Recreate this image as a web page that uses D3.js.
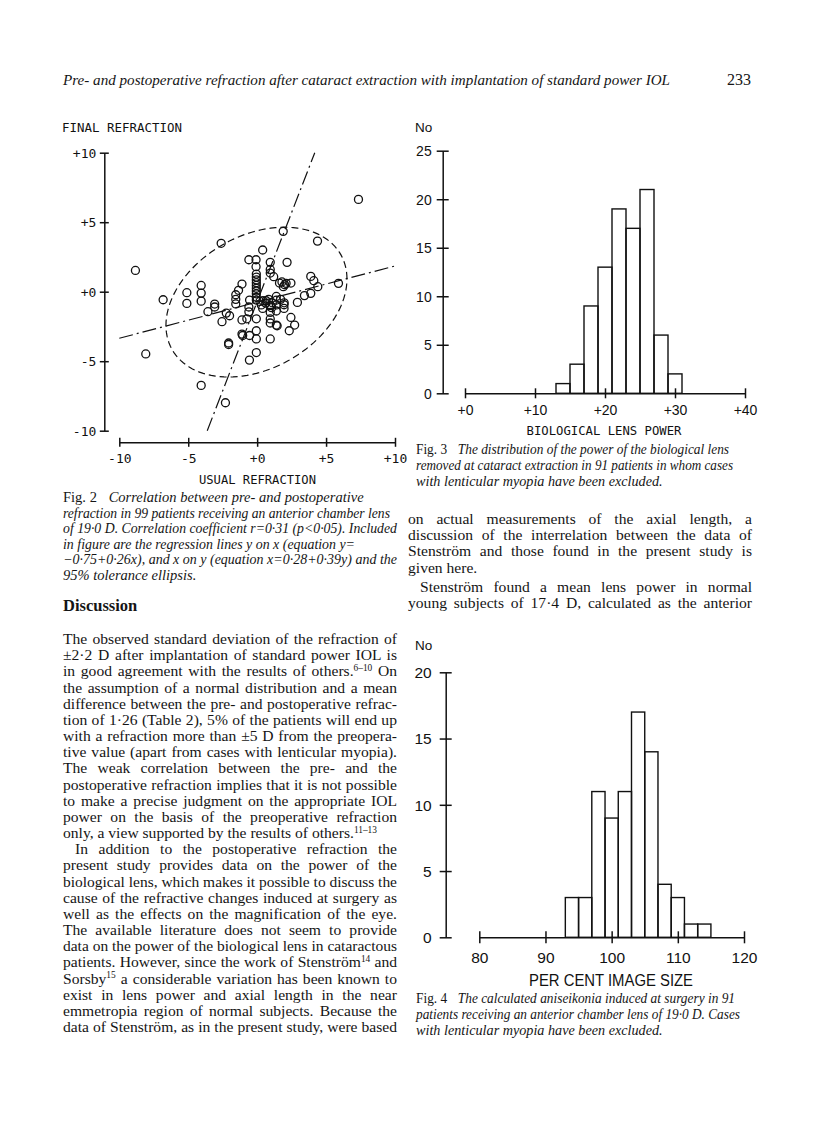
<!DOCTYPE html>
<html><head><meta charset="utf-8">
<script src="https://cdn.jsdelivr.net/npm/d3@7"></script>
<style>body{margin:0;background:#fff}</style>
</head><body>
<svg id="page" width="816" height="1135"></svg>
<script>
// ---------- DATA ----------
// Fig 2 scatter: usual (pre-op) refraction vs final (post-op) refraction
const fig2Usual = [7.35,-8.83,-8.08,-4.06,-2.30,-2.61,1.89,4.38,0.40,5.90,
  -6.82,-5.10,-5.10,-4.06,-4.06,-4.06,-3.08,-3.08,-3.57,-2.24,
  -2.00,-2.55,-2.07,-2.07,-0.60,-0.08,-0.08,-0.06,-0.06,-0.06,
  -0.06,-0.06,-0.06,-0.06,-0.06,-0.06,-0.06,0.95,0.95,0.95,
  1.20,2.17,1.62,1.90,2.10,2.45,3.89,4.11,4.40,3.89,
  3.43,2.92,-1.10,-1.35,-1.55,-1.55,-1.55,-0.55,-0.60,-1.10,
  -0.75,-1.10,-1.05,-0.55,-0.06,-0.06,-0.06,-0.06,-0.56,0.95,
  0.42,0.83,1.39,1.95,1.95,0.95,0.95,0.95,0.95,1.39,
  1.45,1.39,1.39,2.45,2.72,2.33,0.62,1.40,0.20,0.30,
  0.65,1.10,1.70,0.40,-0.60,1.96,1.05,2.00,1.80];
const fig2Final = [6.64,1.53,-4.48,-6.74,-7.99,3.48,4.34,3.64,3.00,0.60,
  -0.58,-0.07,-0.84,0.45,-0.10,-0.68,-0.89,-1.10,-1.44,-1.54,
  -1.73,-2.16,-3.69,-3.80,2.30,2.30,1.80,1.27,1.05,0.85,
  0.65,0.45,0.25,0.05,-0.15,-0.40,-0.60,2.11,1.60,1.34,
  1.08,2.11,0.62,0.36,0.60,0.62,1.10,0.79,0.36,-0.12,
  -0.28,-0.77,0.55,0.10,-0.22,-0.55,-0.88,-0.60,-1.45,-2.03,
  -1.95,-3.05,-3.15,-3.15,-1.95,-2.81,-3.40,-4.38,-4.92,-3.40,
  -0.65,-0.55,-0.34,-0.94,-1.20,-1.00,-1.49,-1.96,-2.25,-2.40,
  -2.45,-0.95,-1.39,-1.85,-2.40,-2.81,-0.82,-0.60,-0.70,-0.95,
  -0.65,-0.80,-0.55,-1.20,-1.10,-0.80,-1.15,0.50,0.70];
const regYonX = [-0.75, 0.26];   // y = a + b x
const regXonY = [0.28, 0.39];    // x = a + b y
const ellipseMean = [-0.05, -0.75];
const ellipseSD = [2.68, 2.2];
const ellipseR = 0.31;
const ellipseK = 2.45;           // 95% (sqrt chi2, 2 df)
const fig2Ticks = [-10, -5, 0, 5, 10];
const fig2TickLabels = ["-10", "-5", "+0", "+5", "+10"];

// Fig 3 histogram: biological lens power
const fig3BinStart = [13, 15, 17, 19, 21, 23, 25, 27, 29];
const fig3Counts = [1, 3, 9, 13, 19, 17, 21, 6, 2];
const fig3BinWidth = 2;
const fig3XTicks = [0, 10, 20, 30, 40];
const fig3XTickLabels = ["+0", "+10", "+20", "+30", "+40"];
const fig3YTicks = [0, 5, 10, 15, 20, 25];

// Fig 4 histogram: per cent image size
const fig4BinStart = [93, 95, 97, 99, 101, 103, 105, 107, 109, 111, 113];
const fig4Counts = [3, 3, 11, 9, 11, 17, 14, 4, 3, 1, 1];
const fig4BinWidth = 2;
const fig4XTicks = [80, 90, 100, 110, 120];
const fig4YTicks = [0, 5, 10, 15, 20];

// ---------- TEXT ----------
const headerText = "Pre- and postoperative refraction after cataract extraction with implantation of standard power IOL";
const pageNumber = "233";
const fig2Caption = [
  "{Fig. 2}Correlation between pre- and postoperative",
  "refraction in 99 patients receiving an anterior chamber lens",
  "of 19·0 D. Correlation coefficient r=0·31 (p<0·05). Included",
  "in figure are the regression lines y on x (equation y=",
  "−0·75+0·26x), and x on y (equation x=0·28+0·39y) and the",
  "95% tolerance ellipsis."];
const fig2CaptionEnds = [352, 390, 397, 355, 397, null];
const fig3Caption = [
  "{Fig. 3}The distribution of the power of the biological lens",
  "removed at cataract extraction in 91 patients in whom cases",
  "with lenticular myopia have been excluded."];
const fig3CaptionEnds = [729, 733, null];
const fig4Caption = [
  "{Fig. 4}The calculated aniseikonia induced at surgery in 91",
  "patients receiving an anterior chamber lens of 19·0 D. Cases",
  "with lenticular myopia have been excluded."];
const fig4CaptionEnds = [735, 740, null];
const para1 = [
  "The observed standard deviation of the refraction of",
  "±2·2 D after implantation of standard power IOL is",
  "in good agreement with the results of others.^6–10^ On",
  "the assumption of a normal distribution and a mean",
  "difference between the pre- and postoperative refrac-",
  "tion of 1·26 (Table 2), 5% of the patients will end up",
  "with a refraction more than ±5 D from the preopera-",
  "tive value (apart from cases with lenticular myopia).",
  "The weak correlation between the pre- and the",
  "postoperative refraction implies that it is not possible",
  "to make a precise judgment on the appropriate IOL",
  "power on the basis of the preoperative refraction",
  "only, a view supported by the results of others.^11–13^"];
const para2 = [
  "In addition to the postoperative refraction the",
  "present study provides data on the power of the",
  "biological lens, which makes it possible to discuss the",
  "cause of the refractive changes induced at surgery as",
  "well as the effects on the magnification of the eye.",
  "The available literature does not seem to provide",
  "data on the power of the biological lens in cataractous",
  "patients. However, since the work of Stenström^14^ and",
  "Sorsby^15^ a considerable variation has been known to",
  "exist in lens power and axial length in the near",
  "emmetropia region of normal subjects. Because the",
  "data of Stenström, as in the present study, were based"];
const para2cont = [
  "on actual measurements of the axial length, a",
  "discussion of the interrelation between the data of",
  "Stenström and those found in the present study is",
  "given here."];
const para3 = [
  "Stenström found a mean lens power in normal",
  "young subjects of 17·4 D, calculated as the anterior"];

// ---------- DRAWING ----------
const svg = d3.select("#page");
const SERIF = "'Liberation Serif','Times New Roman',serif";
const MONO = "'DejaVu Sans Mono','Liberation Mono',monospace";
const SANS = "'Liberation Sans',Arial,sans-serif";

function richText(g, x, y, str, opts) {
  const t = g.append("text").attr("x", x).attr("y", y)
    .attr("font-family", SERIF).attr("font-size", opts.size)
    .attr("font-style", opts.italic ? "italic" : "normal")
    .attr("font-weight", opts.bold ? "bold" : "normal").attr("fill", "#151515");
  const parts = str.split(/(\^[^^]*\^|\{[^}]*\})/).filter(s => s.length);
  let pendingDy = null, pendingDx = 0;
  parts.forEach(p => {
    if (p[0] === "^") {
      t.append("tspan").attr("font-size", "0.6em").attr("dy", "-0.55em")
        .attr("font-style", "normal").text(p.slice(1, -1));
      pendingDy = "0.33em";
    } else if (p[0] === "{") {
      t.append("tspan").attr("font-style", "normal").text(p.slice(1, -1));
      pendingDx = "0.8em";
    } else {
      const ts = t.append("tspan").text(p);
      if (pendingDy) { ts.attr("dy", pendingDy); pendingDy = null; }
      if (pendingDx) { ts.attr("dx", pendingDx); pendingDx = 0; }
    }
  });
  return t;
}

// Justify a line to a target right edge: widen word gaps, or squeeze slightly if too long.
function justify(t, x, end) {
  if (end == null) return;
  const target = end - x;
  const nat = t.node().getComputedTextLength();
  const spaces = (t.text().match(/ /g) || []).length;
  if (nat < target && spaces > 0) {
    t.attr("word-spacing", ((target - nat) / spaces).toFixed(2));
  } else if (nat > target) {
    t.attr("textLength", target).attr("lengthAdjust", "spacingAndGlyphs");
  }
}

function textBlock(lines, xs, ys, ends, opts) {
  const g = svg.append("g");
  lines.forEach((s, i) => justify(richText(g, xs[i], ys[i], s, opts), xs[i], ends[i]));
  return g;
}

// header
textBlock([headerText], [63], [85], [670], {size: 15.5, italic: true});
svg.append("text").attr("x", 727).attr("y", 85).attr("font-family", SERIF)
  .attr("font-size", 16).attr("fill", "#151515").text(pageNumber);

// body columns
const LH = 16.17;
{
  const lines = [], xs = [], ys = [], ends = [];
  para1.forEach((s, i) => { lines.push(s); xs.push(63); ys.push(644 + i * LH); ends.push(i === para1.length - 1 ? null : 397); });
  para2.forEach((s, i) => { lines.push(s); xs.push(i === 0 ? 75 : 63); ys.push(644 + (13 + i) * LH); ends.push(397); });
  para2cont.forEach((s, i) => { lines.push(s); xs.push(408); ys.push(524 + i * LH); ends.push(i === para2cont.length - 1 ? null : 752); });
  para3.forEach((s, i) => { lines.push(s); xs.push(i === 0 ? 420 : 408); ys.push(592 + i * LH); ends.push(752); });
  textBlock(lines, xs, ys, ends, {size: 15.6});
}
richText(svg, 63, 611, "Discussion", {size: 16.5, bold: true});

// captions
textBlock(fig2Caption, fig2Caption.map(() => 63), [502, 517.5, 533, 548.5, 564, 579.5], fig2CaptionEnds, {size: 14.5, italic: true});
textBlock(fig3Caption, fig3Caption.map(() => 416), [454, 469.8, 485.6], fig3CaptionEnds, {size: 14.2, italic: true});
textBlock(fig4Caption, fig4Caption.map(() => 416), [1003, 1019.2, 1035.4], fig4CaptionEnds, {size: 14.2, italic: true});

function styleAxis(g, family, size) {
  g.attr("font-family", family).attr("font-size", size);
  g.select(".domain").attr("stroke", "#111").attr("stroke-width", 1.5);
  g.selectAll(".tick line").attr("stroke", "#111").attr("stroke-width", 1.5);
  g.selectAll(".tick text").attr("fill", "#111");
}

// ---------- FIG 2 ----------
const x2 = d3.scaleLinear().domain([-10, 10]).range([119.3, 395]);
const y2 = d3.scaleLinear().domain([-10, 10]).range([430.7, 152.7]);
const f2 = svg.append("g");
const yAx2 = f2.append("g").attr("transform", "translate(104.3,0)")
  .call(d3.axisLeft(y2).tickValues(fig2Ticks).tickSize(4.5).tickSizeOuter(0)
    .tickFormat((d, i) => fig2TickLabels[i]));
yAx2.selectAll(".tick line").attr("x1", 4.5);
yAx2.selectAll(".tick text").attr("x", -8).attr("dy", "0.35em");
styleAxis(yAx2, MONO, 13);
const xAx2 = f2.append("g").attr("transform", "translate(0,442.3)")
  .call(d3.axisBottom(x2).tickValues(fig2Ticks).tickSize(4.5).tickSizeOuter(0)
    .tickFormat((d, i) => fig2TickLabels[i]));
xAx2.selectAll(".tick line").attr("y1", -4.5);
xAx2.selectAll(".tick text").attr("y", 16).attr("dy", "0.35em");
styleAxis(xAx2, MONO, 13);
f2.append("text").attr("x", 62).attr("y", 128).attr("dy", "0.35em")
  .attr("font-family", MONO).attr("font-size", 12.5).attr("fill", "#111")
  .attr("textLength", 120).attr("lengthAdjust", "spacingAndGlyphs").text("FINAL REFRACTION");
f2.append("text").attr("x", 257.5).attr("y", 480).attr("dy", "0.35em").attr("text-anchor", "middle")
  .attr("font-family", MONO).attr("font-size", 12.5).attr("fill", "#111")
  .attr("textLength", 117).attr("lengthAdjust", "spacingAndGlyphs").text("USUAL REFRACTION");

// regression lines
const lineGen = d3.line().x(d => x2(d[0])).y(d => y2(d[1]));
f2.append("path").attr("d", lineGen([[-10, regYonX[0] + regYonX[1] * -10], [10, regYonX[0] + regYonX[1] * 10]]))
  .attr("fill", "none").attr("stroke", "#111").attr("stroke-width", 1.2).attr("stroke-dasharray", "14,4,2,4");
f2.append("path").attr("d", lineGen([[regXonY[0] + regXonY[1] * -10, -10], [regXonY[0] + regXonY[1] * 10, 10]]))
  .attr("fill", "none").attr("stroke", "#111").attr("stroke-width", 1.2).attr("stroke-dasharray", "14,4,2,4");
// tolerance ellipse
const ell = d3.range(0, 121).map(i => {
  const t = i / 120 * 2 * Math.PI;
  return [ellipseMean[0] + ellipseK * ellipseSD[0] * Math.cos(t),
          ellipseMean[1] + ellipseK * ellipseSD[1] * (ellipseR * Math.cos(t) + Math.sqrt(1 - ellipseR * ellipseR) * Math.sin(t))];
});
f2.append("path").attr("d", d3.line().x(d => x2(d[0])).y(d => y2(d[1])).curve(d3.curveLinearClosed)(ell))
  .attr("fill", "none").attr("stroke", "#111").attr("stroke-width", 1.2).attr("stroke-dasharray", "7,4");
// points
f2.selectAll("circle.pt").data(fig2Usual.map((u, i) => [u, fig2Final[i]])).join("circle")
  .attr("class", "pt").attr("cx", d => x2(d[0])).attr("cy", d => y2(d[1])).attr("r", 4)
  .attr("fill", "none").attr("stroke", "#111").attr("stroke-width", 1.3);

// ---------- FIG 3 ----------
const x3 = d3.scaleLinear().domain([0, 40]).range([465, 745]);
const y3 = d3.scaleLinear().domain([0, 25]).range([393.3, 150.7]);
const f3 = svg.append("g");
f3.selectAll("rect").data(fig3BinStart.map((b, i) => [b, fig3Counts[i]])).join("rect")
  .attr("x", d => x3(d[0])).attr("width", d => x3(d[0] + fig3BinWidth) - x3(d[0]))
  .attr("y", d => y3(d[1])).attr("height", d => y3(0) - y3(d[1]))
  .attr("fill", "none").attr("stroke", "#111").attr("stroke-width", 1.4);
const yAx3 = f3.append("g").attr("transform", "translate(442.7,0)")
  .call(d3.axisLeft(y3).tickValues(fig3YTicks).tickSize(6).tickSizeOuter(0));
yAx3.selectAll(".tick line").attr("x1", 6);
yAx3.selectAll(".tick text").attr("x", -11).attr("dy", "0.35em");
styleAxis(yAx3, SANS, 14);
const xAx3 = f3.append("g").attr("transform", "translate(0,393.3)")
  .call(d3.axisBottom(x3).tickValues(fig3XTicks).tickSize(5).tickSizeOuter(0)
    .tickFormat((d, i) => fig3XTickLabels[i]));
xAx3.selectAll(".tick line").attr("y1", -5);
xAx3.selectAll(".tick text").attr("y", 17).attr("dy", "0.35em");
styleAxis(xAx3, SANS, 14);
f3.append("text").attr("x", 415).attr("y", 127).attr("dy", "0.35em")
  .attr("font-family", SANS).attr("font-size", 13.5).attr("fill", "#111").text("No");
f3.append("text").attr("x", 604).attr("y", 431).attr("dy", "0.35em").attr("text-anchor", "middle")
  .attr("font-family", MONO).attr("font-size", 12.5).attr("fill", "#111")
  .attr("textLength", 155).attr("lengthAdjust", "spacingAndGlyphs").text("BIOLOGICAL LENS POWER");

// ---------- FIG 4 ----------
const x4 = d3.scaleLinear().domain([80, 120]).range([479.3, 744]);
const y4 = d3.scaleLinear().domain([0, 20]).range([937.3, 672.3]);
const f4 = svg.append("g");
f4.selectAll("rect").data(fig4BinStart.map((b, i) => [b, fig4Counts[i]])).join("rect")
  .attr("x", d => x4(d[0])).attr("width", d => x4(d[0] + fig4BinWidth) - x4(d[0]))
  .attr("y", d => y4(d[1])).attr("height", d => y4(0) - y4(d[1]))
  .attr("fill", "none").attr("stroke", "#111").attr("stroke-width", 1.4);
const yAx4 = f4.append("g").attr("transform", "translate(445.7,0)")
  .call(d3.axisLeft(y4).tickValues(fig4YTicks).tickSize(6).tickSizeOuter(0));
yAx4.selectAll(".tick line").attr("x1", 6);
yAx4.selectAll(".tick text").attr("x", -14).attr("dy", "0.35em");
styleAxis(yAx4, SANS, 15.5);
const xAx4 = f4.append("g").attr("transform", "translate(0,937.3)")
  .call(d3.axisBottom(x4).tickValues(fig4XTicks).tickSize(6).tickSizeOuter(0));
xAx4.selectAll(".tick line").attr("y1", -6);
xAx4.selectAll(".tick text").attr("y", 20).attr("dy", "0.35em");
styleAxis(xAx4, SANS, 15.5);
f4.append("text").attr("x", 415).attr("y", 645).attr("dy", "0.35em")
  .attr("font-family", SANS).attr("font-size", 13.5).attr("fill", "#111").text("No");
f4.append("text").attr("x", 611).attr("y", 980).attr("dy", "0.35em").attr("text-anchor", "middle")
  .attr("font-family", SANS).attr("font-size", 16).attr("fill", "#111")
  .attr("textLength", 164).attr("lengthAdjust", "spacingAndGlyphs").text("PER CENT IMAGE SIZE");
</script>
</body></html>
